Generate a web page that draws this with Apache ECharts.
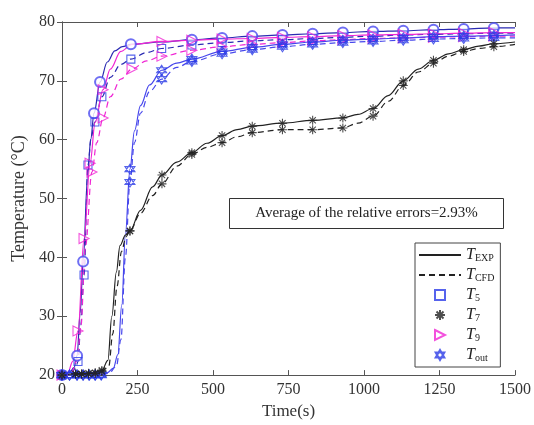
<!DOCTYPE html>
<html>
<head>
<meta charset="utf-8">
<script src="https://cdn.jsdelivr.net/npm/echarts@6/dist/echarts.min.js"></script>
<style>
  html, body { margin: 0; padding: 0; background: #fff; }
  #chart { width: 534px; height: 425px; }
</style>
</head>
<body>
<div id="chart"></div>
<script>
// Temperature histories [time (s), temperature (°C)]: measured (EXP) and simulated (CFD)
const t5Exp = [[0,20],[25,20.4],[40,21.3],[50,23.3],[60,30.5],[70,39.3],[85,54],[95,60],[106,64.5],[126,69.8],[150,73.2],[175,75.1],[200,75.8],[228,76.2],[330,76.6],[430,77.0],[530,77.3],[630,77.6],[730,77.8],[830,78.0],[930,78.2],[1030,78.4],[1130,78.5],[1230,78.7],[1330,78.8],[1430,79.0],[1500,79.0]];
const t5Cfd = [[0,20],[30,20.3],[45,21.2],[53,22.3],[62,28.5],[73,37],[86,55.7],[97,60.5],[109,63],[132,67.3],[160,70.6],[195,72.8],[228,73.7],[280,74.8],[330,75.5],[430,76.1],[530,76.5],[630,76.8],[730,77.0],[830,77.2],[930,77.4],[1030,77.6],[1130,77.8],[1230,77.9],[1330,78.0],[1430,78.1],[1500,78.1]];
const t7Exp = [[0,20],[45,20.2],[65,20.2],[88,20.3],[110,20.4],[132,20.8],[152,22.5],[165,30],[180,37.5],[192,42],[210,43.8],[225,44.5],[260,48],[300,52],[331,54],[380,56.2],[430,57.8],[480,59.4],[530,60.7],[580,61.7],[630,62.3],[730,62.8],[830,63.3],[930,63.7],[980,64.3],[1030,65.3],[1080,67.5],[1130,70],[1180,72],[1230,73.5],[1280,74.6],[1330,75.3],[1380,75.9],[1430,76.3],[1500,76.6]];
const t7Cfd = [[0,20],[45,20.2],[65,20.2],[88,20.2],[110,20.3],[132,20.6],[155,21.5],[168,27],[182,35],[197,41],[212,43.5],[225,44.5],[260,47.5],[300,50.5],[331,52.5],[380,55.5],[430,57.5],[480,58.7],[530,59.5],[580,60.5],[630,61.2],[730,61.7],[830,61.7],[930,62],[980,62.8],[1030,64],[1080,66.5],[1130,69.2],[1180,71.5],[1230,73],[1280,74.2],[1330,75],[1380,75.5],[1430,75.8],[1500,76.2]];
const t9Exp = [[0,20],[20,20.5],[35,22.3],[53,27.5],[73,43.2],[93,56],[110,63],[136,68.5],[160,72],[195,75],[232,76.2],[331,76.7],[430,76.9],[530,77.1],[630,77.2],[730,77.4],[830,77.5],[930,77.7],[1030,77.8],[1130,77.9],[1230,78.0],[1330,78.1],[1430,78.2],[1500,78.2]];
const t9Cfd = [[0,20],[30,20.3],[50,22.5],[62,28],[78,42],[99,54.5],[115,59.5],[136,63.7],[160,67.3],[195,70.3],[232,72],[280,73.4],[331,74.2],[430,75.2],[530,75.8],[630,76.2],[730,76.5],[830,76.8],[930,77.0],[1030,77.2],[1130,77.3],[1230,77.4],[1330,77.5],[1430,77.6],[1500,77.6]];
const toutExp = [[0,20],[25,20],[50,20],[70,20],[90,20],[110,20],[130,20.1],[150,20.4],[170,21.2],[185,23.5],[198,32],[210,44],[225,55],[240,61.5],[260,65.8],[290,69.3],[330,71.8],[380,73],[430,73.7],[530,75],[630,75.7],[730,76.2],[830,76.6],[930,76.9],[1030,77.1],[1130,77.3],[1230,77.5],[1330,77.6],[1430,77.7],[1500,77.8]];
const toutCfd = [[0,20],[25,20],[50,20],[70,20],[90,20],[110,20],[130,20],[155,20.3],[180,21.5],[195,26],[210,40],[225,52.8],[240,59.5],[260,64.5],[290,68.2],[330,70.3],[380,72.3],[430,73.3],[530,74.6],[630,75.3],[730,75.8],[830,76.2],[930,76.5],[1030,76.7],[1130,76.9],[1230,77.1],[1330,77.2],[1430,77.3],[1500,77.3]];

// Sampling times at which a marker is drawn on each curve
const lateTimes = [430,530,630,730,830,930,1030,1130,1230,1330,1430];
const t5ExpMarks = [0,50,70,106,126,228].concat(lateTimes);
const t5CfdMarks = [0,53,73,86,109,132,228,330].concat(lateTimes);
const t7Marks = [0,45,65,88,110,132,225,331].concat(lateTimes);
const t9ExpMarks = [0,53,73,93,136,331].concat(lateTimes);
const t9CfdMarks = [99,136,232,331].concat(lateTimes);
const toutMarks = [0,25,50,70,90,110,130,225,330].concat(lateTimes);

// Axis ticks
const xTicks = { min: 0, max: 1500, step: 250 };
const yTicks = { min: 20, max: 80, step: 10 };

const NAVY = '#2a2ab2';
const BLUE = '#4747ec';
const MAGENTA = '#f026d4';
const BLACK = '#222222';
const SERIF = '"Liberation Serif", "DejaVu Serif", serif';

const SYM_SQ = 'path://M0,0 L10,0 L10,10 L0,10 Z';
const SYM_TRI = 'path://M0,0 L10,5 L0,10 Z';
const SYM_AST = 'path://M5,0 L5,10 M0,5 L10,5 M1.5,1.5 L8.5,8.5 M8.5,1.5 L1.5,8.5';
const SYM_HEX = 'path://M5,0 L9.33,7.5 L0.67,7.5 Z M5,10 L0.67,2.5 L9.33,2.5 Z';

function pick(points, times) {
  return points.filter(p => times.includes(p[0]));
}

function curve(name, data, color, dashed) {
  return {
    name, type: 'line', data, symbol: 'none', smooth: 0.35, smoothMonotone: 'x',
    lineStyle: { color, width: 1.2, type: dashed ? [6, 4] : 'solid' },
    z: 2, silent: true
  };
}

function marks(name, data, symbol, color, size) {
  const builtinEmpty = symbol.indexOf('empty') === 0;
  return {
    name, type: 'scatter', data, symbol, symbolSize: size,
    itemStyle: builtinEmpty ? { color, borderWidth: 1.1 } : { color: 'none', borderColor: color, borderWidth: 1.1 },
    z: 3, silent: true
  };
}

const chart = echarts.init(document.getElementById('chart'), null, { renderer: 'canvas' });

const axisCommon = {
  type: 'value',
  axisLine: { show: true, lineStyle: { color: '#555', width: 1 } },
  axisTick: { show: true, inside: true, length: 5, lineStyle: { color: '#555' } },
  splitLine: { show: false }
};

const legendNames = { EXP: ['T', 'EXP'], CFD: ['T', 'CFD'], T5: ['T', '5'], T7: ['T', '7'], T9: ['T', '9'], Tout: ['T', 'out'] };
const hideDot = { opacity: 0 };

chart.setOption({
  animation: false,
  backgroundColor: '#fff',
  grid: { left: 62, right: 19, top: 22, bottom: 43 },
  xAxis: [
    Object.assign({}, axisCommon, {
      min: xTicks.min, max: xTicks.max, interval: xTicks.step,
      name: 'Time(s)', nameLocation: 'middle', nameGap: 27,
      nameTextStyle: { fontFamily: SERIF, fontSize: 17, color: '#333' },
      axisLabel: { fontFamily: SERIF, fontSize: 16, color: '#333', margin: 7, formatter: v => String(v) }
    }),
    Object.assign({}, axisCommon, {
      position: 'top', min: xTicks.min, max: xTicks.max, interval: xTicks.step,
      axisLabel: { show: false }
    })
  ],
  yAxis: [
    Object.assign({}, axisCommon, {
      min: yTicks.min, max: yTicks.max, interval: yTicks.step,
      name: 'Temperature (°C)', nameLocation: 'middle', nameGap: 30,
      nameTextStyle: { fontFamily: SERIF, fontSize: 18, color: '#333' },
      axisLabel: { fontFamily: SERIF, fontSize: 16, color: '#333', margin: 7, formatter: v => String(v) }
    }),
    Object.assign({}, axisCommon, {
      position: 'right', min: yTicks.min, max: yTicks.max, interval: yTicks.step,
      axisLabel: { show: false }
    })
  ],
  legend: {
    orient: 'vertical', left: 415, top: 243,
    itemWidth: 42, itemHeight: 10, itemGap: 4,
    padding: [4, 6, 4, 3],
    backgroundColor: '#fff', borderColor: '#444', borderWidth: 1, borderRadius: 0,
    data: [
      { name: 'EXP', itemStyle: hideDot },
      { name: 'CFD', itemStyle: hideDot },
      'T5', 'T7', 'T9', 'Tout'
    ],
    formatter: n => '{t|' + legendNames[n][0] + '}{s|' + legendNames[n][1] + '}',
    textStyle: {
      color: '#222',
      rich: {
        t: { fontFamily: SERIF, fontStyle: 'italic', fontSize: 16, color: '#222' },
        s: { fontFamily: SERIF, fontSize: 10, color: '#222', verticalAlign: 'bottom', padding: [6, 0, 0, 0] }
      }
    },
    selectedMode: false
  },
  graphic: [{
    type: 'group', left: 229, top: 198,
    children: [
      { type: 'rect', shape: { x: 0, y: 0, width: 274, height: 30 }, style: { fill: '#fff', stroke: '#333', lineWidth: 1 } },
      { type: 'text', x: 137, y: 15, style: { text: 'Average of the relative errors=2.93%', font: '15px ' + SERIF, align: 'center', verticalAlign: 'middle', fill: '#222' } }
    ]
  }],
  series: [
    // line styles shown in the legend only
    { name: 'EXP', type: 'line', data: [], symbol: 'none', lineStyle: { color: BLACK, width: 1.2 }, itemStyle: { color: BLACK } },
    { name: 'CFD', type: 'line', data: [], symbol: 'none', lineStyle: { color: BLACK, width: 1.2, type: [6, 4] }, itemStyle: { color: BLACK } },

    curve('T5 EXP', t5Exp, NAVY, false),
    curve('T5 CFD', t5Cfd, NAVY, true),
    curve('T9 EXP', t9Exp, MAGENTA, false),
    curve('T9 CFD', t9Cfd, MAGENTA, true),
    curve('Tout EXP', toutExp, BLUE, false),
    curve('Tout CFD', toutCfd, BLUE, true),
    curve('T7 EXP', t7Exp, BLACK, false),
    curve('T7 CFD', t7Cfd, BLACK, true),

    marks('T5 EXP points', pick(t5Exp, t5ExpMarks), 'emptyCircle', '#4a4af0', 10),
    marks('T5', pick(t5Cfd, t5CfdMarks), SYM_SQ, '#2c3ce8', 8),
    marks('T9', pick(t9Exp, t9ExpMarks), SYM_TRI, MAGENTA, 10),
    marks('T9', pick(t9Cfd, t9CfdMarks), SYM_TRI, MAGENTA, 10),
    marks('Tout', pick(toutExp, toutMarks), SYM_HEX, '#2b3be6', 10),
    marks('Tout', pick(toutCfd, toutMarks), SYM_HEX, '#2b3be6', 10),
    marks('T7', pick(t7Exp, t7Marks), SYM_AST, BLACK, 9),
    marks('T7', pick(t7Cfd, t7Marks), SYM_AST, BLACK, 9)
  ]
});
</script>
</body>
</html>
